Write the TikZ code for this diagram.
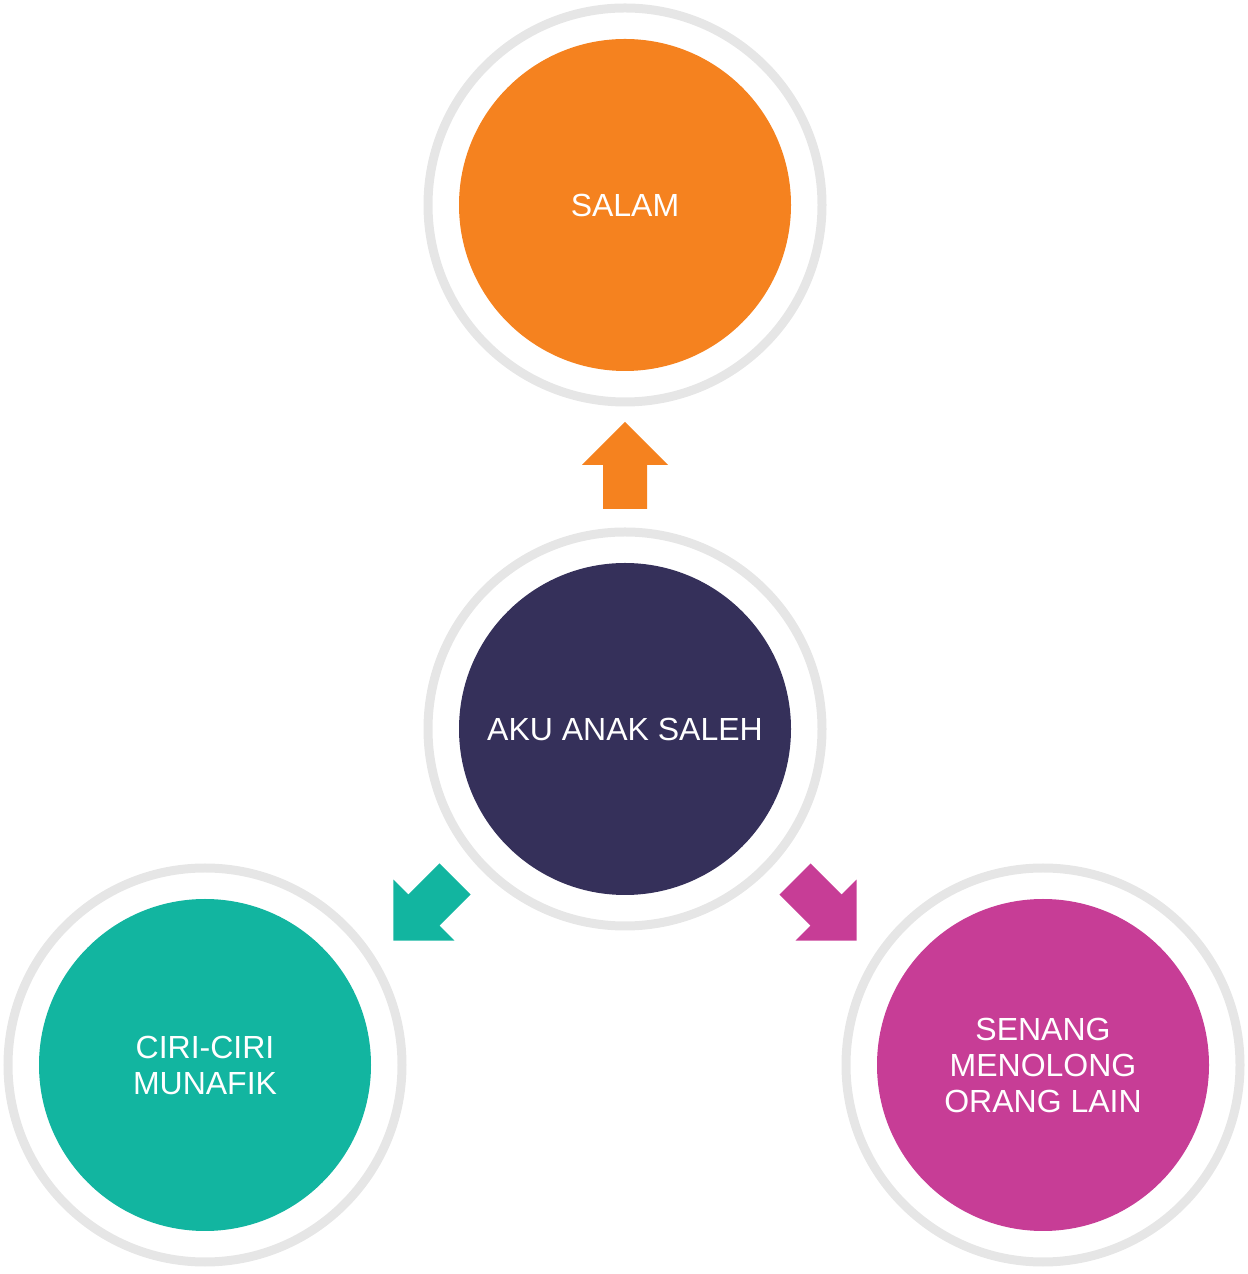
\documentclass[tikz,border=0pt]{standalone}
\usepackage{fontspec}
\setmainfont{Liberation Sans}
\definecolor{orangesalam}{HTML}{F5821F}
\definecolor{bleucentre}{HTML}{35305A}
\definecolor{vertmunafik}{HTML}{12B5A0}
\definecolor{rosesenang}{HTML}{C73D96}
\definecolor{gris}{HTML}{E6E6E6}
\begin{document}
\begin{tikzpicture}[x=0.75pt,y=0.75pt,
  bulle/.style={circle, minimum size=249pt, inner sep=0pt, text=white, align=center,
    font=\fontsize{24}{27}\selectfont},
  anneau/.style={draw=gris, line width=6.75pt},
  fleche/.pic={\fill[pic actions] (0,-22) -- (44,-22) -- (44,-43) -- (87,0) -- (44,43) -- (44,22) -- (0,22) -- cycle;}]
\useasboundingbox (0,0) rectangle (1247,1274);
% Les quatre disques
\node[bulle, fill=bleucentre] (aku) at (625,545) {AKU ANAK SALEH};
\node[bulle, fill=orangesalam] (salam) at (625,1069) {SALAM};
\node[bulle, fill=vertmunafik] (ciri) at (205,209) {CIRI-CIRI\\MUNAFIK};
\node[bulle, fill=rosesenang] (senang) at (1043,209) {SENANG\\MENOLONG\\ORANG LAIN};
% Un anneau gris autour de chaque disque
\foreach \n in {aku, salam, ciri, senang}
  \draw[anneau] (\n.center) circle[radius=147.75pt];
% Les grosses fleches partent du centre
\pic[fill=orangesalam, rotate=90] at (625,765) {fleche};
\pic[fill=vertmunafik, rotate=225] at (455,395) {fleche};
\pic[fill=rosesenang, rotate=-45] at (795,395) {fleche};
\end{tikzpicture}
\end{document}
